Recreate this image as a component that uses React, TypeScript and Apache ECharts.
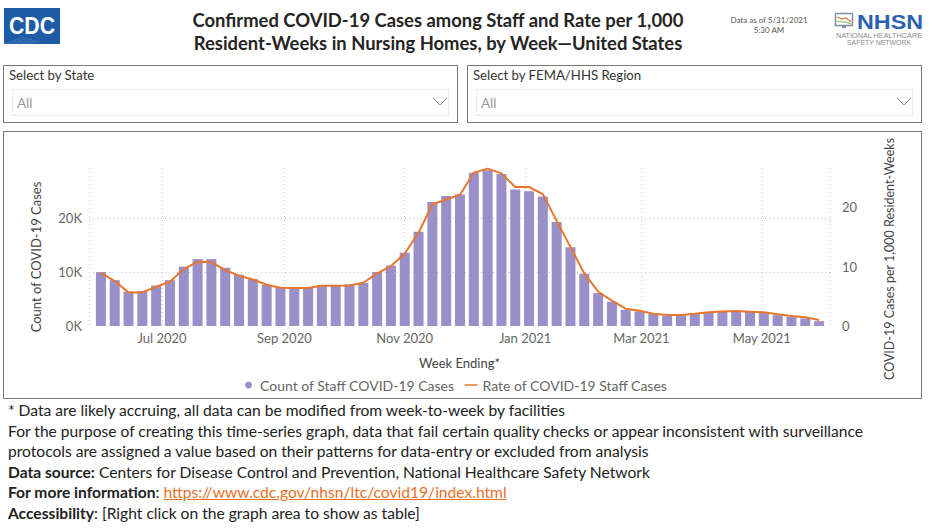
import React, { useEffect, useRef } from "react";
import * as echarts from "echarts";

const weekEnding = [
  "2020-05-31", "2020-06-07", "2020-06-14", "2020-06-21", "2020-06-28",
  "2020-07-05", "2020-07-12", "2020-07-19", "2020-07-26", "2020-08-02",
  "2020-08-09", "2020-08-16", "2020-08-23", "2020-08-30", "2020-09-06",
  "2020-09-13", "2020-09-20", "2020-09-27", "2020-10-04", "2020-10-11",
  "2020-10-18", "2020-10-25", "2020-11-01", "2020-11-08", "2020-11-15",
  "2020-11-22", "2020-11-29", "2020-12-06", "2020-12-13", "2020-12-20",
  "2020-12-27", "2021-01-03", "2021-01-10", "2021-01-17", "2021-01-24",
  "2021-01-31", "2021-02-07", "2021-02-14", "2021-02-21", "2021-02-28",
  "2021-03-07", "2021-03-14", "2021-03-21", "2021-03-28", "2021-04-04",
  "2021-04-11", "2021-04-18", "2021-04-25", "2021-05-02", "2021-05-09",
  "2021-05-16", "2021-05-23", "2021-05-30",
];

const staffCases = [
  10000, 8500, 6400, 6500, 7500, 8500, 11000, 12400, 12400, 10800,
  9500, 8700, 7600, 7100, 7200, 7100, 7600, 7500, 7700, 8000,
  10000, 11200, 13600, 17500, 23000, 24100, 24400, 28400, 28900, 28200,
  25300, 25000, 24000, 19300, 14600, 9700, 6100, 4500, 3000, 2700,
  2200, 1900, 2000, 2200, 2400, 2600, 2700, 2600, 2400, 2000,
  1700, 1400, 900,
];

const staffRate = [
  8.96, 7.56, 5.66, 5.66, 6.6, 7.45, 9.58, 10.8, 10.76, 9.4,
  8.46, 7.84, 6.95, 6.44, 6.39, 6.39, 6.78, 6.78, 6.83, 7.28,
  8.85, 10.1, 12.2, 15.7, 20.45, 21.3, 22.1, 25.8, 26.5, 25.7,
  23.4, 23.4, 22.2, 17.7, 13.3, 8.85, 5.77, 4.26, 2.91, 2.58,
  2.07, 1.85, 1.85, 2.07, 2.3, 2.46, 2.52, 2.41, 2.3, 1.96,
  1.68, 1.46, 1.0,
];

const monthNames = ["Jan", "Feb", "Mar", "Apr", "May", "Jun", "Jul", "Aug", "Sep", "Oct", "Nov", "Dec"];

const seriesNames = ["Count of Staff COVID-19 Cases", "Rate of COVID-19 Staff Cases"];

const FONT = "Lato, 'Open Sans', sans-serif";
const DAY = 24 * 3600 * 1000;
const BAR_COLOR = "#9a8fc8";
const LINE_COLOR = "#e8762d";
// thin horizontal line icon inside a 13x7 box (corner specks fix the bounding box)
const LINE_ICON = "path://M0,0H0.01V0.01H0ZM0,2.7H13V4.3H0ZM12.99,6.99H13V7H12.99Z";

function Chevron({ left }: { left: number }) {
  return (
    <svg style={{ position: "absolute", left, top: 97, width: 16, height: 10 }} viewBox="0 0 16 10">
      <polyline points="1,1 8,8 15,1" fill="none" stroke="#8a8a8a" strokeWidth="1" />
    </svg>
  );
}

function Dropdown({ left, width, label }: { left: number; width: number; label: string }) {
  return (
    <div
      style={{
        position: "absolute",
        left,
        top: 65,
        width,
        height: 58,
        border: "1px solid #7a7a7a",
        boxSizing: "border-box",
        background: "#fff",
      }}
    >
      <div style={{ position: "absolute", left: 5, top: 1, fontSize: 13.2, color: "#333", whiteSpace: "nowrap" }}>{label}</div>
      <div
        style={{
          position: "absolute",
          left: 8,
          top: 23,
          width: width - 18,
          height: 27,
          border: "1px solid #ececec",
          boxSizing: "border-box",
        }}
      >
        <div style={{ position: "absolute", left: 4, top: 5, fontSize: 13.5, color: "#9a9a9a" }}>All</div>
      </div>
    </div>
  );
}

export default function App() {
  const ref = useRef<HTMLDivElement>(null);

  useEffect(() => {
    const chart = echarts.init(ref.current!, null, { renderer: "svg" });
    const gridLine = { type: [1, 3] as any, color: "#c4c4c4", width: 1 };
    chart.setOption({
      animation: false,
      textStyle: { fontFamily: FONT },
      grid: { left: 85, right: 90, top: 36, bottom: 72, outerBoundsMode: "none", containLabel: false },
      legend: {
        top: 241,
        left: 236,
        itemWidth: 13,
        itemHeight: 7,
        itemGap: 10,
        textStyle: { fontSize: 14, color: "#666" },
        data: [
          { name: seriesNames[0], icon: "circle" },
          { name: seriesNames[1], icon: LINE_ICON },
        ],
      },
      xAxis: {
        type: "time",
        min: new Date(2020, 4, 27, 12).getTime(),
        max: new Date(2021, 5, 2).getTime(),
        minInterval: 61 * DAY,
        maxInterval: 61 * DAY,
        axisLine: { show: false },
        axisTick: { show: false },
        axisLabel: {
          color: "#666",
          fontSize: 13,
          margin: 5,
          formatter: (v: number) => {
            const d = new Date(v);
            return monthNames[d.getMonth()] + " " + d.getFullYear();
          },
        },
        splitLine: { show: true, lineStyle: gridLine },
        name: "Week Ending*",
        nameLocation: "middle",
        nameGap: 30,
        nameTextStyle: { fontSize: 13, color: "#444" },
      },
      yAxis: [
        {
          type: "value",
          position: "left",
          min: 0,
          max: 29300,
          interval: 10000,
          axisLine: { show: false },
          axisTick: { show: false },
          axisLabel: {
            color: "#666",
            fontSize: 13,
            margin: 7,
            showMaxLabel: false,
            formatter: (v: number) => v / 1000 + "K",
          },
          splitLine: { show: true, showMinLine: false, showMaxLine: false, lineStyle: gridLine },
          name: "Count of COVID-19 Cases",
          nameLocation: "middle",
          nameRotate: 90,
          nameGap: 47,
          nameTextStyle: { fontSize: 13, color: "#444", padding: [0, 20, 0, 0] },
        },
        {
          type: "value",
          position: "right",
          min: 0,
          max: 26.6,
          interval: 10,
          axisLine: { show: false },
          axisTick: { show: false },
          axisLabel: { color: "#666", fontSize: 13, margin: 12, showMaxLabel: false },
          splitLine: { show: false },
          name: "COVID-19 Cases per 1,000 Resident-Weeks",
          nameLocation: "middle",
          nameRotate: 90,
          nameGap: 53,
          nameTextStyle: { fontSize: 12.5, color: "#444", padding: [0, 24, 0, 0] },
        },
      ],
      series: [
        {
          type: "bar",
          name: seriesNames[0],
          yAxisIndex: 0,
          barWidth: 10,
          itemStyle: { color: BAR_COLOR },
          data: weekEnding.map((d, i) => [d, staffCases[i]]),
        },
        {
          type: "line",
          name: seriesNames[1],
          yAxisIndex: 1,
          symbol: "none",
          lineStyle: { color: LINE_COLOR, width: 2 },
          itemStyle: { color: LINE_COLOR },
          data: weekEnding.map((d, i) => [d, staffRate[i]]),
        },
      ],
    });
    return () => chart.dispose();
  }, []);

  return (
    <div
      style={{
        position: "fixed",
        left: 0,
        top: 0,
        width: 936,
        height: 532,
        background: "#fff",
        fontFamily: FONT,
        color: "#222",
        overflow: "hidden",
      }}
    >
      {/* CDC logo */}
      <svg style={{ position: "absolute", left: 4, top: 8, width: 56, height: 36 }} viewBox="0 0 56 36">
        <rect x="0" y="0" width="56" height="36" fill="#1d5ba6" />
        <g stroke="#4f86c6" strokeWidth="0.8" opacity="0.8">
          <line x1="0" y1="36" x2="20" y2="29" />
          <line x1="6" y1="36" x2="24" y2="30" />
          <line x1="12" y1="36" x2="28" y2="31" />
          <line x1="18" y1="36" x2="32" y2="32" />
          <line x1="24" y1="36" x2="36" y2="33" />
        </g>
        <text x="28" y="26" textAnchor="middle" fill="#fff" fontFamily="'Liberation Sans', Arial, sans-serif" fontWeight="bold" fontSize="23" textLength="46" lengthAdjust="spacingAndGlyphs">CDC</text>
      </svg>

      {/* Title */}
      <div
        style={{
          position: "absolute",
          left: 88,
          top: 9,
          width: 700,
          textAlign: "center",
          fontWeight: 700,
          fontSize: 18.4,
          lineHeight: "23px",
          color: "#252423",
        }}
      >
        <div>Confirmed COVID-19 Cases among Staff and Rate per 1,000</div>
        <div>Resident-Weeks in Nursing Homes, by Week—United States</div>
      </div>

      {/* Data as of */}
      <div
        style={{
          position: "absolute",
          left: 719,
          top: 15,
          width: 100,
          textAlign: "center",
          fontSize: 8,
          lineHeight: "10px",
          color: "#555",
        }}
      >
        <div>Data as of 5/31/2021</div>
        <div>5:30 AM</div>
      </div>

      {/* NHSN logo */}
      <svg style={{ position: "absolute", left: 834, top: 8, width: 98, height: 40 }} viewBox="0 0 98 40">
        <rect x="1.5" y="5.5" width="17" height="12" fill="#fff" stroke="#7d8fa8" strokeWidth="1.5" />
        <polyline points="3,9 8,11 12,10 17,14" fill="none" stroke="#e07b39" strokeWidth="1.2" />
        <polyline points="3,13 8,14 12,14 17,16" fill="none" stroke="#7fb36b" strokeWidth="1.2" />
        <rect x="8" y="18" width="4" height="2" fill="#7d8fa8" />
        <text x="23" y="21" fill="#2b62ae" fontFamily="'Liberation Sans', Arial, sans-serif" fontWeight="bold" fontSize="21" textLength="66" lengthAdjust="spacingAndGlyphs">NHSN</text>
        <text x="45" y="29.5" textAnchor="middle" fill="#8a8a8a" fontFamily="'Liberation Sans', Arial, sans-serif" fontSize="7" textLength="86" lengthAdjust="spacingAndGlyphs">NATIONAL HEALTHCARE</text>
        <text x="45" y="37" textAnchor="middle" fill="#8a8a8a" fontFamily="'Liberation Sans', Arial, sans-serif" fontSize="7" textLength="64" lengthAdjust="spacingAndGlyphs">SAFETY NETWORK</text>
      </svg>

      {/* Slicers */}
      <Dropdown left={3} width={455} label="Select by State" />
      <Dropdown left={467} width={455} label="Select by FEMA/HHS Region" />
      <Chevron left={432} />
      <Chevron left={896} />

      {/* Chart frame */}
      <div
        style={{
          position: "absolute",
          left: 3,
          top: 131,
          width: 919,
          height: 268,
          border: "1px solid #7a7a7a",
          boxSizing: "border-box",
        }}
      />
      <div ref={ref} style={{ position: "absolute", left: 4, top: 132, width: 916, height: 266 }} />

      {/* Footer notes */}
      <div
        style={{
          position: "absolute",
          left: 8,
          top: 400,
          fontSize: 15.6,
          lineHeight: "20.5px",
          color: "#222",
          whiteSpace: "nowrap",
        }}
      >
        <div>* Data are likely accruing, all data can be modified from week-to-week by facilities</div>
        <div>For the purpose of creating this time-series graph, data that fail certain quality checks or appear inconsistent with surveillance</div>
        <div>protocols are assigned a value based on their patterns for data-entry or excluded from analysis</div>
        <div>
          <b>Data source:</b> Centers for Disease Control and Prevention, National Healthcare Safety Network
        </div>
        <div>
          <b>For more information</b>:{" "}
          <span style={{ color: "#e8702a", textDecoration: "underline" }}>https://www.cdc.gov/nhsn/ltc/covid19/index.html</span>
        </div>
        <div>
          <b>Accessibility</b>: [Right click on the graph area to show as table]
        </div>
      </div>
    </div>
  );
}
